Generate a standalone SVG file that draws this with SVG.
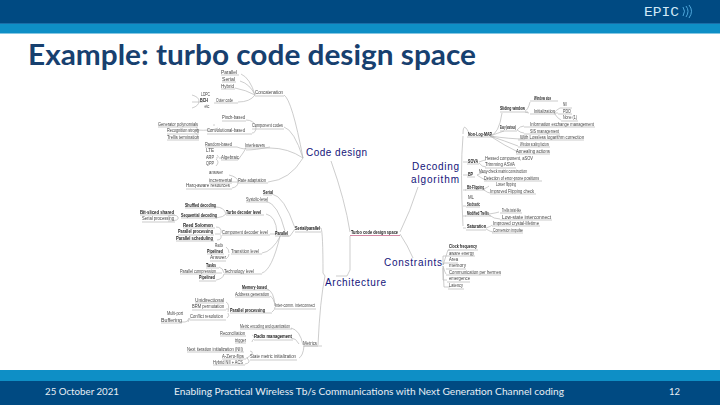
<svg xmlns="http://www.w3.org/2000/svg" width="720" height="405" viewBox="0 0 720 405">
<defs><filter id="bl" x="-5%" y="-20%" width="110%" height="140%"><feGaussianBlur stdDeviation="0.22"/></filter></defs>
<style>
.s{font-family:"Liberation Sans",Arial,sans-serif;font-size:4.8px;fill:#444;filter:url(#bl)}
.d{font-family:"Liberation Sans",Arial,sans-serif;font-size:4.8px;fill:#222;font-weight:700;filter:url(#bl)}
.b{font-family:"Liberation Sans",Arial,sans-serif;font-size:10px;fill:#14147a}
.u{stroke:#b4b4b4;stroke-width:.7;fill:none}
.c path{stroke:#b8b8b8;stroke-width:.7;fill:none}
.f{font-family:Lato,"Open Sans",sans-serif;font-size:10px;fill:#e8eef4}
</style>
<rect width="720" height="405" fill="#fff"/>
<g id="header">
<rect width="720" height="23" fill="#004a82"/>
<rect y="23" width="720" height="1" fill="#1a6ea8"/>
<rect y="24" width="720" height="9.500" fill="#0e8fc6"/>
<text x="644" y="15.500" textLength="35" lengthAdjust="spacingAndGlyphs" style="font-family:'Liberation Mono',monospace;font-size:12px;fill:#cfe8f7">EPIC</text>
<path d="M683 7q3 4 0 9M686 6q4 5 0 11M689 5q5 6 0 13" fill="none" stroke="#4fa8dc" stroke-width="1"/>
</g>
<text id="title" x="28" y="64.500" textLength="448" lengthAdjust="spacingAndGlyphs" style="font-family:Lato,'Open Sans',sans-serif;font-weight:700;font-size:28px;fill:#17406f">Example: turbo code design space</text>
<g id="footer">
<rect y="370" width="720" height="11" fill="#0e8fc6"/>
<rect y="381" width="720" height="24" fill="#004a82"/>
<text class="f" x="45" y="395" textLength="74" lengthAdjust="spacingAndGlyphs">25 October 2021</text>
<text class="f" x="174" y="395" textLength="390" lengthAdjust="spacingAndGlyphs">Enabling Practical Wireless Tb/s Communications with Next Generation Channel coding</text>
<text class="f" x="669" y="395" textLength="11" lengthAdjust="spacingAndGlyphs">12</text>
</g>
<g class="c" id="connectors">
<path d="M241 74Q250 78 255 95M240 81Q250 84 255 95M235 88Q246 90 255 95M238 102Q250 102 255 95M284 95Q292 100 303 158"/>
<path d="M246 120Q254 120 256 127M252 133Q256 133 256 127M284 127Q294 130 303 158"/>
<path d="M237 147Q245 150 246 148M246 150Q255 150 270 147M270 148Q288 148 303 158"/>
<path d="M218 128Q212 131 196 130M214 124Q214 124 214 126"/>
<path d="M192 95Q199 97 199 101Q199 106 192 108M192 102H203"/>
<path d="M196 127Q200 131 194 131M196 139Q200 135 194 132"/>
<path d="M217 155Q220 158 216 158M216 166Q220 162 216 159M219 158H221"/>
<path d="M238 160Q244 152 246 148"/>
<path d="M268 182Q290 180 303 158M232 182H238M232 188Q238 187 238 182M229 175Q238 177 238 182"/>
<path d="M272 194Q284 196 295 228M266 201Q278 204 285 231M266 214Q276 216 277 233M270 234H282M262 253Q272 252 281 235M262 273Q272 270 280 236M282 236H290L295 229"/>
<path d="M300 228H321Q323 232 323 273L325 276Q320 300 318 345"/>
<path d="M168 216Q176 214 178 217Q180 221 168 221"/>
<path d="M216 207Q224 207 226 214M216 218Q224 217 226 214"/>
<path d="M216 227Q222 227 221 233M215 234H221M217 240Q222 240 221 235"/>
<path d="M226 247Q229 249 229 253M226 259Q229 257 229 254"/>
<path d="M219 267Q223 268 224 273M216 273H222M216 280Q223 279 224 274"/>
<path d="M267 289Q274 291 275 306M270 296Q274 298 275 306M272 312Q275 310 275 307"/>
<path d="M226 302Q230 304 228 312M226 309H228M227 318Q230 316 228 313"/>
<path d="M188 322L190 318M181 322H185Q188 322 189 318"/>
<path d="M291 328Q300 330 303 345M291 338Q296 338 299 344M299 358Q303 356 304 346H322"/>
<path d="M252 335Q256 337 254 338M252 342Q252 340 254 339"/>
<path d="M250 351Q256 352 247 358M246 358H248M245 364Q252 363 247 358"/>
<path d="M350 232Q345 200 331 161M350 236V270L347 276H336"/>
<path d="M400 232Q410 212 418 187M400 234Q408 246 413 258"/>
<path d="M463 134Q463 120 470 135M463 136Q460 170 463 226M463 162H470M463 175H468M463 190H466M463 206H466M463 216H466M463 228H466"/>
<path d="M490 136Q499 134 502 113M490 136Q498 133 504 131M490 136Q510 139 525 139M490 136Q505 141 518 146M490 136Q505 146 520 153"/>
<path d="M525 111Q528 110 530 102M525 112L529 113"/>
<path d="M554 113Q556 110 560 108M554 113H558M554 113Q558 119 561 120"/>
<path d="M517 130Q520 126 524 126M517 130Q521 133 524 133"/>
<path d="M479 162Q484 160 486 160M479 163Q482 167 486 167"/>
<path d="M477 175Q483 171 487 173M477 175Q484 180 487 180"/>
<path d="M484 189Q488 187 489 186M484 190Q488 193 490 193"/>
<path d="M489 214Q496 213 499 212M489 215Q494 219 500 219"/>
<path d="M486 228Q492 226 492 225M486 229Q491 232 493 232"/>
<path d="M443 265L448 250H450M443 265V256H446M443 265L444 263H446M443 266Q445 273 446 274M443 266V280H447M443 268L444 287H450"/>
</g>
<g id="n1"><text class="s" x="221" y="74" textLength="16" lengthAdjust="spacingAndGlyphs">Parallel</text><path class="u" d="M221 75H239"/></g>
<g id="n2"><text class="s" x="222" y="80.500" textLength="13" lengthAdjust="spacingAndGlyphs">Serial</text><path class="u" d="M222 82H236"/></g>
<g id="n3"><text class="s" x="221" y="87.500" textLength="13" lengthAdjust="spacingAndGlyphs">Hybrid</text><path class="u" d="M221 89H235"/></g>
<g id="n4"><text class="s" x="255" y="94.400" textLength="28" lengthAdjust="spacingAndGlyphs">Concatenation</text><path class="u" d="M255 96H284"/></g>
<g id="n5"><text class="s" x="201" y="95.700" textLength="9" lengthAdjust="spacingAndGlyphs">LDPC</text></g>
<g id="n6"><text class="d" x="200" y="101.700" textLength="8" lengthAdjust="spacingAndGlyphs">BCH</text></g>
<g id="n7"><text class="s" x="204.500" y="108.400" textLength="5" lengthAdjust="spacingAndGlyphs">etc</text></g>
<g id="n8"><text class="s" x="216" y="101.700" textLength="17" lengthAdjust="spacingAndGlyphs">Outer code</text><path class="u" d="M214 103H238"/></g>
<g id="n9"><text class="s" x="222" y="119.400" textLength="23" lengthAdjust="spacingAndGlyphs">Pinch-based</text><path class="u" d="M222 121H246"/></g>
<g id="n10"><text class="s" x="252" y="127.400" textLength="31" lengthAdjust="spacingAndGlyphs">Component codes</text><path class="u" d="M252 129H284"/></g>
<g id="n11"><text class="s" x="158" y="125.700" textLength="40" lengthAdjust="spacingAndGlyphs">Generator polynomials</text><path class="u" d="M158 127H198"/></g>
<g id="n12"><text class="s" x="167" y="132.400" textLength="32" lengthAdjust="spacingAndGlyphs">Recognition strong</text><path class="u" d="M167 134H199"/></g>
<g id="n13"><text class="s" x="167" y="138.700" textLength="32" lengthAdjust="spacingAndGlyphs">Trellis termination</text><path class="u" d="M167 140H199"/></g>
<g id="n14"><text class="s" x="207" y="132.400" textLength="38" lengthAdjust="spacingAndGlyphs">Convolutional-based</text><path class="u" d="M207 134H252"/></g>
<g id="n15"><text class="s" x="205" y="145.700" textLength="27" lengthAdjust="spacingAndGlyphs">Random-based</text><path class="u" d="M205 147H237"/></g>
<g id="n16"><text class="s" x="245" y="147" textLength="20" lengthAdjust="spacingAndGlyphs">Interleavers</text><path class="u" d="M245 148H270"/></g>
<g id="n17"><text class="s" x="206" y="152" textLength="8" lengthAdjust="spacingAndGlyphs">LTE</text></g>
<g id="n18"><text class="s" x="206" y="158.700" textLength="8" lengthAdjust="spacingAndGlyphs">ARP</text></g>
<g id="n19"><text class="s" x="206" y="165.400" textLength="8" lengthAdjust="spacingAndGlyphs">QPP</text></g>
<g id="n20"><text class="s" x="221" y="158.700" textLength="18" lengthAdjust="spacingAndGlyphs">Algebraic</text><path class="u" d="M221 160H238"/></g>
<g id="n21"><text class="s" x="209" y="174.400" textLength="14" lengthAdjust="spacingAndGlyphs">answer</text></g>
<g id="n22"><text class="s" x="209" y="181.700" textLength="23" lengthAdjust="spacingAndGlyphs">incremental</text><path class="u" d="M209 183H232"/></g>
<g id="n23"><text class="s" x="186" y="187.400" textLength="44" lengthAdjust="spacingAndGlyphs">Harq-aware resources</text><path class="u" d="M186 189H232"/></g>
<g id="n24"><text class="s" x="238" y="181.700" textLength="28" lengthAdjust="spacingAndGlyphs">Rate adaptation</text><path class="u" d="M238 183H268"/></g>
<g id="n25"><text class="d" x="263" y="194" textLength="10" lengthAdjust="spacingAndGlyphs">Serial</text><path class="u" d="M263 195H272"/></g>
<g id="n26"><text class="s" x="246" y="201" textLength="22" lengthAdjust="spacingAndGlyphs">Systolic-level</text><path class="u" d="M246 202H268"/></g>
<g id="n27"><text class="d" x="185" y="207" textLength="31" lengthAdjust="spacingAndGlyphs">Shuffled decoding</text><path class="u" d="M185 208H216"/></g>
<g id="n28"><text class="d" x="181" y="217" textLength="36" lengthAdjust="spacingAndGlyphs">Sequential decoding</text><path class="u" d="M181 218H217"/></g>
<g id="n29"><text class="d" x="226" y="214" textLength="35" lengthAdjust="spacingAndGlyphs">Turbo decoder level</text><path class="u" d="M226 215H264"/></g>
<g id="n30"><text class="d" x="140" y="214" textLength="34" lengthAdjust="spacingAndGlyphs">Bit-sliced shared</text><path class="u" d="M140 215H175"/></g>
<g id="n31"><text class="s" x="142" y="220.400" textLength="32" lengthAdjust="spacingAndGlyphs">Serial processing</text><path class="u" d="M142 222H175"/></g>
<g id="n32"><text class="d" x="183" y="227" textLength="30" lengthAdjust="spacingAndGlyphs">Reed Solomon</text><path class="u" d="M183 228H215"/></g>
<g id="n33"><text class="d" x="178" y="233.400" textLength="35" lengthAdjust="spacingAndGlyphs">Parallel processing</text><path class="u" d="M178 235H214"/></g>
<g id="n34"><text class="d" x="176" y="240" textLength="37" lengthAdjust="spacingAndGlyphs">Parallel scheduling</text><path class="u" d="M176 241H214"/></g>
<g id="n35"><text class="s" x="222" y="233.700" textLength="46" lengthAdjust="spacingAndGlyphs">Component decoder level</text><path class="u" d="M222 235H270"/></g>
<g id="n36"><text class="d" x="275" y="235" textLength="13" lengthAdjust="spacingAndGlyphs">Parallel</text><path class="u" d="M275 236H289"/></g>
<g id="n37"><text class="d" x="295" y="230.400" textLength="25" lengthAdjust="spacingAndGlyphs">Serial/parallel</text><path class="u" d="M295 232H321"/></g>
<g id="n38"><text class="s" x="215" y="247" textLength="8" lengthAdjust="spacingAndGlyphs">Radix</text></g>
<g id="n39"><text class="d" x="207" y="253" textLength="16" lengthAdjust="spacingAndGlyphs">Pipelined</text><path class="u" d="M207 254H224"/></g>
<g id="n40"><text class="s" x="210" y="259.400" textLength="16" lengthAdjust="spacingAndGlyphs">Answer</text><path class="u" d="M210 261H226"/></g>
<g id="n41"><text class="s" x="231" y="253" textLength="28" lengthAdjust="spacingAndGlyphs">Transition level</text><path class="u" d="M231 254H262"/></g>
<g id="n42"><text class="d" x="206" y="267" textLength="10" lengthAdjust="spacingAndGlyphs">Tasks</text><path class="u" d="M206 268H219"/></g>
<g id="n43"><text class="s" x="180" y="273" textLength="36" lengthAdjust="spacingAndGlyphs">Parallel compression</text><path class="u" d="M180 274H216"/></g>
<g id="n44"><text class="d" x="199" y="279.400" textLength="16" lengthAdjust="spacingAndGlyphs">Pipelined</text><path class="u" d="M199 281H216"/></g>
<g id="n45"><text class="s" x="224" y="273" textLength="30" lengthAdjust="spacingAndGlyphs">Technology level</text><path class="u" d="M224 274H262"/></g>
<g id="n46"><text class="d" x="242" y="289" textLength="25" lengthAdjust="spacingAndGlyphs">Memory-based</text><path class="u" d="M242 290H269"/></g>
<g id="n47"><text class="s" x="235" y="295.700" textLength="34" lengthAdjust="spacingAndGlyphs">Address generation</text><path class="u" d="M235 297H270"/></g>
<g id="n48"><text class="s" x="275" y="307.400" textLength="40" lengthAdjust="spacingAndGlyphs">Inter-comm. interconnect</text><path class="u" d="M275 309H316"/></g>
<g id="n49"><text class="d" x="230" y="311.700" textLength="35" lengthAdjust="spacingAndGlyphs">Parallel processing</text><path class="u" d="M230 313H272"/></g>
<g id="n50"><text class="s" x="195" y="301.700" textLength="29" lengthAdjust="spacingAndGlyphs">Unidirectional</text><path class="u" d="M195 303H224"/></g>
<g id="n51"><text class="s" x="192" y="308.400" textLength="32" lengthAdjust="spacingAndGlyphs">BRM permutation</text><path class="u" d="M192 310H226"/></g>
<g id="n52"><text class="s" x="190" y="318.400" textLength="33" lengthAdjust="spacingAndGlyphs">Conflict resolution</text><path class="u" d="M190 320H226"/></g>
<g id="n53"><text class="s" x="167" y="315" textLength="16" lengthAdjust="spacingAndGlyphs">Multi-port</text></g>
<g id="n54"><text class="s" x="161" y="321.700" textLength="21" lengthAdjust="spacingAndGlyphs">Buffering</text><path class="u" d="M161 323H182"/></g>
<g id="n55"><text class="s" x="240" y="328" textLength="50" lengthAdjust="spacingAndGlyphs">Metric encoding and quantization</text><path class="u" d="M240 329H292"/></g>
<g id="n56"><text class="s" x="220" y="335" textLength="25" lengthAdjust="spacingAndGlyphs">Reconciliation</text><path class="u" d="M220 336H246"/></g>
<g id="n57"><text class="s" x="235" y="341.700" textLength="11" lengthAdjust="spacingAndGlyphs">trigger</text><path class="u" d="M235 343H246"/></g>
<g id="n58"><text class="d" x="254" y="338.400" textLength="38" lengthAdjust="spacingAndGlyphs">Radix management</text><path class="u" d="M254 340H293"/></g>
<g id="n59"><text class="s" x="303" y="344.700" textLength="14" lengthAdjust="spacingAndGlyphs">Metrics</text><path class="u" d="M303 346H318"/></g>
<g id="n60"><text class="s" x="187" y="351" textLength="56" lengthAdjust="spacingAndGlyphs">Next iteration initialization (NII)</text><path class="u" d="M187 352H244"/></g>
<g id="n61"><text class="s" x="222" y="358" textLength="22" lengthAdjust="spacingAndGlyphs">A-Zero-flips</text><path class="u" d="M222 359H246"/></g>
<g id="n62"><text class="s" x="213" y="364" textLength="30" lengthAdjust="spacingAndGlyphs">Hybrid NII + ACS</text><path class="u" d="M213 365H245"/></g>
<g id="n63"><text class="s" x="250" y="358.400" textLength="46" lengthAdjust="spacingAndGlyphs">State metric initialization</text><path class="u" d="M250 360H297"/></g>
<g id="big1"><text class="b" x="306" y="156" textLength="61" lengthAdjust="spacing">Code design</text></g>
<g id="big2"><text class="b" x="412" y="170" textLength="47" lengthAdjust="spacing">Decoding</text><text class="b" x="411" y="183" textLength="48" lengthAdjust="spacing">algorithm</text></g>
<g id="big3"><text class="b" x="384" y="266" textLength="58" lengthAdjust="spacing">Constraints</text></g>
<g id="big4"><text class="b" x="325" y="286" textLength="61" lengthAdjust="spacing">Architecture</text></g>
<g id="center"><text class="d" x="351" y="234" textLength="47" lengthAdjust="spacingAndGlyphs">Turbo code design space</text><path d="M350 235.500H400" stroke="#c8688c" stroke-width=".8" fill="none"/></g>
<g id="r1"><text class="d" x="534" y="100" textLength="17" lengthAdjust="spacingAndGlyphs">Window size</text><path class="u" d="M530 101H558"/></g>
<g id="r2"><text class="d" x="500" y="110.400" textLength="25" lengthAdjust="spacingAndGlyphs">Sliding window</text><path class="u" d="M500 112H528"/></g>
<g id="r3"><text class="s" x="534" y="113" textLength="21" lengthAdjust="spacingAndGlyphs">Initialization</text><path class="u" d="M530 114H556"/></g>
<g id="r4"><text class="s" x="563" y="106.400" textLength="4" lengthAdjust="spacingAndGlyphs">NII</text><path class="u" d="M560 108H572"/></g>
<g id="r5"><text class="s" x="563" y="113" textLength="8" lengthAdjust="spacingAndGlyphs">PDO</text><path class="u" d="M558 114H572"/></g>
<g id="r6"><text class="s" x="563" y="119.400" textLength="14" lengthAdjust="spacingAndGlyphs">None (1)</text><path class="u" d="M561 121H578"/></g>
<g id="r7"><text class="d" x="500" y="129.400" textLength="16" lengthAdjust="spacingAndGlyphs">Easy (various)</text><path class="u" d="M500 131H517"/></g>
<g id="r8"><text class="s" x="530" y="126" textLength="64" lengthAdjust="spacingAndGlyphs">Information exchange management</text><path class="u" d="M524 127H595"/></g>
<g id="r9"><text class="s" x="530" y="132.700" textLength="29" lengthAdjust="spacingAndGlyphs">SIS management</text><path class="u" d="M524 134H560"/></g>
<g id="r10"><text class="d" x="468" y="136" textLength="24" lengthAdjust="spacingAndGlyphs">Non-Log-MAP</text><path class="u" d="M467 137H494"/></g>
<g id="r11"><text class="s" x="520" y="139" textLength="64" lengthAdjust="spacingAndGlyphs">With Lossless logarithm correction</text><path class="u" d="M518 140H584"/></g>
<g id="r12"><text class="s" x="520" y="146" textLength="29" lengthAdjust="spacingAndGlyphs">Window scaling factors</text><path class="u" d="M518 147H550"/></g>
<g id="r13"><text class="s" x="516" y="153" textLength="34" lengthAdjust="spacingAndGlyphs">Annealing actions</text><path class="u" d="M516 154H550"/></g>
<g id="r14"><text class="d" x="468" y="163" textLength="10" lengthAdjust="spacingAndGlyphs">SOVA</text><path class="u" d="M467 164H479"/></g>
<g id="r15"><text class="s" x="485" y="159.700" textLength="48" lengthAdjust="spacingAndGlyphs">Hessed component, aSOV</text></g>
<g id="r16"><text class="s" x="485" y="166.400" textLength="30" lengthAdjust="spacingAndGlyphs">Trimming ASVA</text><path class="u" d="M485 168H516"/></g>
<g id="r17"><text class="d" x="468" y="175.700" textLength="5" lengthAdjust="spacingAndGlyphs">BP</text><path class="u" d="M467 177H475"/></g>
<g id="r18"><text class="s" x="479" y="172.700" textLength="48" lengthAdjust="spacingAndGlyphs">Many-check matrix construction</text></g>
<g id="r19"><text class="s" x="484" y="180" textLength="55" lengthAdjust="spacingAndGlyphs">Detection of error-prone positions</text><path class="u" d="M484 181H542"/></g>
<g id="r20"><text class="d" x="467" y="189" textLength="17" lengthAdjust="spacingAndGlyphs">Bit-Flipping</text><path class="u" d="M465 190H485"/></g>
<g id="r21"><text class="s" x="496" y="186" textLength="20" lengthAdjust="spacingAndGlyphs">Lower flipping</text></g>
<g id="r22"><text class="s" x="490" y="192.700" textLength="44" lengthAdjust="spacingAndGlyphs">Improved Flipping check</text><path class="u" d="M490 194H536"/></g>
<g id="r23"><text class="s" x="468" y="199.400" textLength="6" lengthAdjust="spacingAndGlyphs">ML</text></g>
<g id="r24"><text class="d" x="467" y="205.700" textLength="13" lengthAdjust="spacingAndGlyphs">Stochastic</text><path class="u" d="M466 207H480"/></g>
<g id="r25"><text class="d" x="467" y="215" textLength="22" lengthAdjust="spacingAndGlyphs">Modified Trellis</text><path class="u" d="M465 216H491"/></g>
<g id="r26"><text class="s" x="502" y="212" textLength="19" lengthAdjust="spacingAndGlyphs">Trellis twist-like</text><path class="u" d="M500 213H522"/></g>
<g id="r27"><text class="s" x="502" y="218.700" textLength="49" lengthAdjust="spacingAndGlyphs">Low-state interconnect</text><path class="u" d="M500 220H552"/></g>
<g id="r28"><text class="d" x="467" y="228.400" textLength="19" lengthAdjust="spacingAndGlyphs">Saturation</text><path class="u" d="M466 230H486"/></g>
<g id="r29"><text class="s" x="493" y="225" textLength="46" lengthAdjust="spacingAndGlyphs">Improved crystal-lifetime</text><path class="u" d="M492 226H540"/></g>
<g id="r30"><text class="s" x="493" y="231.700" textLength="30" lengthAdjust="spacingAndGlyphs">Conversion impulse</text><path class="u" d="M492 233H523"/></g>
<g id="k1"><text class="d" x="449" y="248.400" textLength="28" lengthAdjust="spacingAndGlyphs">Clock frequency</text><path class="u" d="M448 250H478"/></g>
<g id="k2"><text class="s" x="449" y="254.700" textLength="25" lengthAdjust="spacingAndGlyphs">aware energy</text><path class="u" d="M446 256H475"/></g>
<g id="k3"><text class="s" x="449" y="261.400" textLength="9" lengthAdjust="spacingAndGlyphs">Area</text><path class="u" d="M446 263H458"/></g>
<g id="k4"><text class="s" x="449" y="267.400" textLength="17" lengthAdjust="spacingAndGlyphs">memory</text><path class="u" d="M446 269H466"/></g>
<g id="k5"><text class="s" x="449" y="274" textLength="52" lengthAdjust="spacingAndGlyphs">Communication per hermes</text><path class="u" d="M446 275H501"/></g>
<g id="k6"><text class="s" x="449" y="280.400" textLength="21" lengthAdjust="spacingAndGlyphs">emergence</text><path class="u" d="M447 282H470"/></g>
<g id="k7"><text class="s" x="449" y="287.400" textLength="14" lengthAdjust="spacingAndGlyphs">Latency</text><path class="u" d="M448 289H464"/></g>
</svg>
